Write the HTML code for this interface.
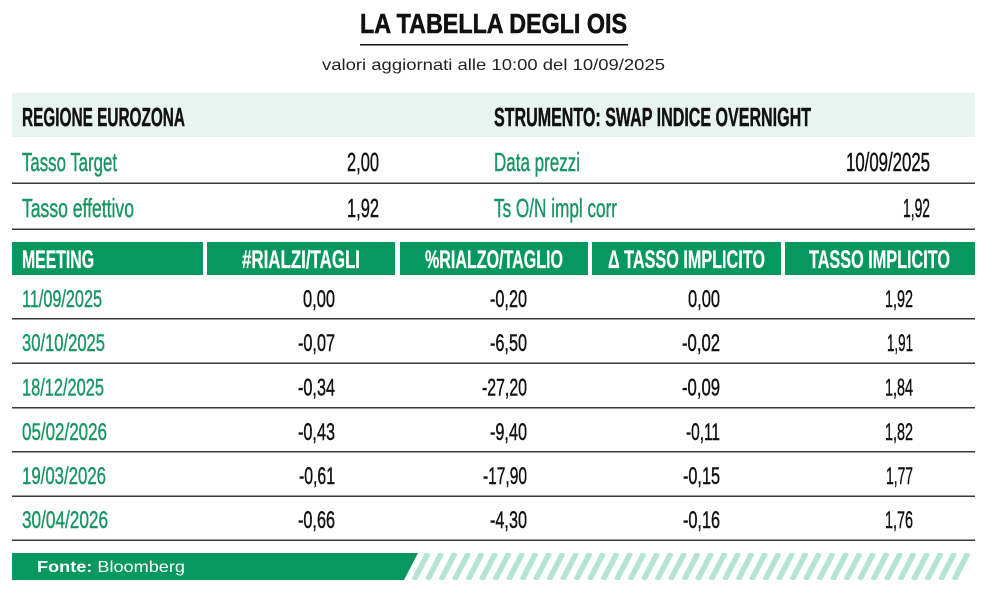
<!DOCTYPE html>
<html><head><meta charset="utf-8"><style>
html,body{margin:0;padding:0;background:#fff;}
svg{display:block;}
text{font-family:"Liberation Sans Narrow","Liberation Sans",sans-serif;}
.g{fill:#1b9567;stroke:#1b9567;stroke-width:0.45px;}
.k{fill:#111;stroke:#111;stroke-width:0.45px;}
.h{fill:#fff;font-weight:bold;stroke:#fff;stroke-width:0.3px;}
</style></head><body>
<svg width="995" height="599" viewBox="0 0 995 599" xmlns="http://www.w3.org/2000/svg">
<rect width="995" height="599" fill="#fff"/>
<!-- title -->
<text x="360" y="33" style="font-family:'Liberation Sans',sans-serif;font-weight:bold;font-size:28px;stroke:#111;stroke-width:0.6px" fill="#111" textLength="267" lengthAdjust="spacingAndGlyphs">LA TABELLA DEGLI OIS</text>
<rect x="360" y="44" width="268" height="1.5" fill="#111"/>
<text x="322" y="70" style="font-family:'Liberation Sans',sans-serif;font-size:16px" fill="#222" textLength="343" lengthAdjust="spacingAndGlyphs">valori aggiornati alle 10:00 del 10/09/2025</text>

<!-- top info band -->
<rect x="12" y="93" width="963" height="44" fill="#e8f4ef"/>
<text x="22" y="126" class="k" style="font-weight:bold;font-size:26px" textLength="163" lengthAdjust="spacingAndGlyphs">REGIONE EUROZONA</text>
<text x="494" y="126" class="k" style="font-weight:bold;font-size:26px" textLength="317" lengthAdjust="spacingAndGlyphs">STRUMENTO: SWAP INDICE OVERNIGHT</text>

<text x="22" y="171" class="g" style="font-size:26px" textLength="95" lengthAdjust="spacingAndGlyphs">Tasso Target</text>
<text x="379" y="171" class="k" text-anchor="end" style="font-size:26px" textLength="32" lengthAdjust="spacingAndGlyphs">2,00</text>
<text x="494" y="171" class="g" style="font-size:26px" textLength="86" lengthAdjust="spacingAndGlyphs">Data prezzi</text>
<text x="930" y="171" class="k" text-anchor="end" style="font-size:26px" textLength="84" lengthAdjust="spacingAndGlyphs">10/09/2025</text>
<rect x="12" y="182.5" width="963" height="1.5" fill="#3a3a3a"/>

<text x="22" y="217" class="g" style="font-size:26px" textLength="112" lengthAdjust="spacingAndGlyphs">Tasso effettivo</text>
<text x="379" y="217" class="k" text-anchor="end" style="font-size:26px" textLength="32" lengthAdjust="spacingAndGlyphs">1,92</text>
<text x="494" y="217" class="g" style="font-size:26px" textLength="123" lengthAdjust="spacingAndGlyphs">Ts O/N impl corr</text>
<text x="930" y="217" class="k" text-anchor="end" style="font-size:26px" textLength="27" lengthAdjust="spacingAndGlyphs">1,92</text>
<rect x="12" y="228.5" width="963" height="1.5" fill="#3a3a3a"/>

<!-- table header -->
<g fill="#07985f">
<rect x="12" y="242" width="191" height="33"/>
<rect x="207" y="242" width="188" height="33"/>
<rect x="400" y="242" width="188" height="33"/>
<rect x="592" y="242" width="189" height="33"/>
<rect x="785" y="242" width="190" height="33"/>
</g>
<text x="22" y="268" class="h" style="font-size:25px" textLength="72" lengthAdjust="spacingAndGlyphs">MEETING</text>
<text x="242" y="268" class="h" style="font-size:25px" textLength="118" lengthAdjust="spacingAndGlyphs">#RIALZI/TAGLI</text>
<text x="425" y="268" class="h" style="font-size:25px" textLength="138" lengthAdjust="spacingAndGlyphs">%RIALZO/TAGLIO</text>
<text x="608" y="268" class="h" style="font-size:25px" textLength="157" lengthAdjust="spacingAndGlyphs">Δ TASSO IMPLICITO</text>
<text x="809" y="268" class="h" style="font-size:25px" textLength="141" lengthAdjust="spacingAndGlyphs">TASSO IMPLICITO</text>

<!-- rows -->
<g style="font-size:24px">
<text x="22" y="307" class="g" textLength="80" lengthAdjust="spacingAndGlyphs">11/09/2025</text>
<text x="335" y="307" class="k" text-anchor="end" textLength="32" lengthAdjust="spacingAndGlyphs">0,00</text>
<text x="527" y="307" class="k" text-anchor="end" textLength="37" lengthAdjust="spacingAndGlyphs">-0,20</text>
<text x="720" y="307" class="k" text-anchor="end" textLength="32" lengthAdjust="spacingAndGlyphs">0,00</text>
<text x="913" y="307" class="k" text-anchor="end" textLength="28" lengthAdjust="spacingAndGlyphs">1,92</text>

<text x="22" y="351" class="g" textLength="83" lengthAdjust="spacingAndGlyphs">30/10/2025</text>
<text x="335" y="351" class="k" text-anchor="end" textLength="37" lengthAdjust="spacingAndGlyphs">-0,07</text>
<text x="527" y="351" class="k" text-anchor="end" textLength="37" lengthAdjust="spacingAndGlyphs">-6,50</text>
<text x="720" y="351" class="k" text-anchor="end" textLength="38" lengthAdjust="spacingAndGlyphs">-0,02</text>
<text x="913" y="351" class="k" text-anchor="end" textLength="26" lengthAdjust="spacingAndGlyphs">1,91</text>

<text x="22" y="395.5" class="g" textLength="82" lengthAdjust="spacingAndGlyphs">18/12/2025</text>
<text x="335" y="395.5" class="k" text-anchor="end" textLength="37" lengthAdjust="spacingAndGlyphs">-0,34</text>
<text x="527" y="395.5" class="k" text-anchor="end" textLength="45" lengthAdjust="spacingAndGlyphs">-27,20</text>
<text x="720" y="395.5" class="k" text-anchor="end" textLength="38" lengthAdjust="spacingAndGlyphs">-0,09</text>
<text x="913" y="395.5" class="k" text-anchor="end" textLength="28" lengthAdjust="spacingAndGlyphs">1,84</text>

<text x="22" y="440" class="g" textLength="85" lengthAdjust="spacingAndGlyphs">05/02/2026</text>
<text x="335" y="440" class="k" text-anchor="end" textLength="37" lengthAdjust="spacingAndGlyphs">-0,43</text>
<text x="527" y="440" class="k" text-anchor="end" textLength="37" lengthAdjust="spacingAndGlyphs">-9,40</text>
<text x="720" y="440" class="k" text-anchor="end" textLength="34" lengthAdjust="spacingAndGlyphs">-0,11</text>
<text x="913" y="440" class="k" text-anchor="end" textLength="28" lengthAdjust="spacingAndGlyphs">1,82</text>

<text x="22" y="484" class="g" textLength="84" lengthAdjust="spacingAndGlyphs">19/03/2026</text>
<text x="335" y="484" class="k" text-anchor="end" textLength="36" lengthAdjust="spacingAndGlyphs">-0,61</text>
<text x="527" y="484" class="k" text-anchor="end" textLength="44" lengthAdjust="spacingAndGlyphs">-17,90</text>
<text x="720" y="484" class="k" text-anchor="end" textLength="37" lengthAdjust="spacingAndGlyphs">-0,15</text>
<text x="913" y="484" class="k" text-anchor="end" textLength="27" lengthAdjust="spacingAndGlyphs">1,77</text>

<text x="22" y="528" class="g" textLength="86" lengthAdjust="spacingAndGlyphs">30/04/2026</text>
<text x="335" y="528" class="k" text-anchor="end" textLength="37" lengthAdjust="spacingAndGlyphs">-0,66</text>
<text x="527" y="528" class="k" text-anchor="end" textLength="37" lengthAdjust="spacingAndGlyphs">-4,30</text>
<text x="720" y="528" class="k" text-anchor="end" textLength="37" lengthAdjust="spacingAndGlyphs">-0,16</text>
<text x="913" y="528" class="k" text-anchor="end" textLength="28" lengthAdjust="spacingAndGlyphs">1,76</text>
</g>
<g fill="#3a3a3a">
<rect x="12" y="318" width="963" height="1.5"/>
<rect x="12" y="362.5" width="963" height="1.5"/>
<rect x="12" y="407" width="963" height="1.5"/>
<rect x="12" y="451" width="963" height="1.5"/>
<rect x="12" y="495.5" width="963" height="1.5"/>
<rect x="12" y="539.5" width="963" height="1.5"/>
</g>

<!-- footer -->
<polygon points="12,553 418,553 404,580 12,580" fill="#07985f"/>
<text x="37" y="572" style="font-family:'Liberation Sans',sans-serif;font-size:16px" fill="#fff" textLength="148" lengthAdjust="spacingAndGlyphs"><tspan font-weight="bold">Fonte:</tspan> Bloomberg</text>
<defs><clipPath id="fc"><rect x="405" y="553" width="572" height="27"/></clipPath></defs>
<g clip-path="url(#fc)" stroke="#b4e4d3" stroke-width="5.5">
<line x1="428" y1="553" x2="414" y2="580"/>
<line x1="441.5" y1="553" x2="427.5" y2="580"/>
<line x1="455" y1="553" x2="441" y2="580"/>
<line x1="468.5" y1="553" x2="454.5" y2="580"/>
<line x1="482" y1="553" x2="468" y2="580"/>
<line x1="495.5" y1="553" x2="481.5" y2="580"/>
<line x1="509" y1="553" x2="495" y2="580"/>
<line x1="522.5" y1="553" x2="508.5" y2="580"/>
<line x1="536" y1="553" x2="522" y2="580"/>
<line x1="549.5" y1="553" x2="535.5" y2="580"/>
<line x1="563" y1="553" x2="549" y2="580"/>
<line x1="576.5" y1="553" x2="562.5" y2="580"/>
<line x1="590" y1="553" x2="576" y2="580"/>
<line x1="603.5" y1="553" x2="589.5" y2="580"/>
<line x1="617" y1="553" x2="603" y2="580"/>
<line x1="630.5" y1="553" x2="616.5" y2="580"/>
<line x1="644" y1="553" x2="630" y2="580"/>
<line x1="657.5" y1="553" x2="643.5" y2="580"/>
<line x1="671" y1="553" x2="657" y2="580"/>
<line x1="684.5" y1="553" x2="670.5" y2="580"/>
<line x1="698" y1="553" x2="684" y2="580"/>
<line x1="711.5" y1="553" x2="697.5" y2="580"/>
<line x1="725" y1="553" x2="711" y2="580"/>
<line x1="738.5" y1="553" x2="724.5" y2="580"/>
<line x1="752" y1="553" x2="738" y2="580"/>
<line x1="765.5" y1="553" x2="751.5" y2="580"/>
<line x1="779" y1="553" x2="765" y2="580"/>
<line x1="792.5" y1="553" x2="778.5" y2="580"/>
<line x1="806" y1="553" x2="792" y2="580"/>
<line x1="819.5" y1="553" x2="805.5" y2="580"/>
<line x1="833" y1="553" x2="819" y2="580"/>
<line x1="846.5" y1="553" x2="832.5" y2="580"/>
<line x1="860" y1="553" x2="846" y2="580"/>
<line x1="873.5" y1="553" x2="859.5" y2="580"/>
<line x1="887" y1="553" x2="873" y2="580"/>
<line x1="900.5" y1="553" x2="886.5" y2="580"/>
<line x1="914" y1="553" x2="900" y2="580"/>
<line x1="927.5" y1="553" x2="913.5" y2="580"/>
<line x1="941" y1="553" x2="927" y2="580"/>
<line x1="954.5" y1="553" x2="940.5" y2="580"/>
<line x1="968" y1="553" x2="954" y2="580"/>
</g>
</svg>
</body></html>
